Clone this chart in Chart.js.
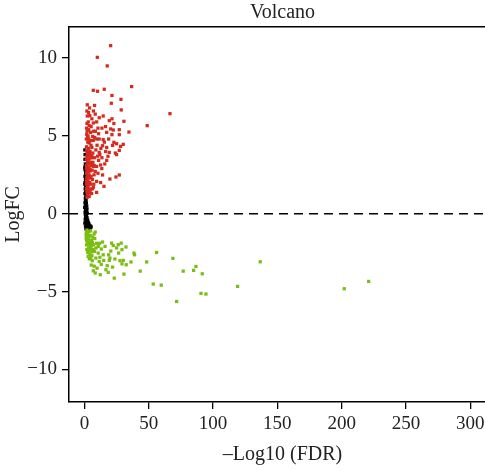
<!DOCTYPE html>
<html><head><meta charset="utf-8">
<script src="https://cdn.jsdelivr.net/npm/chart.js@4"></script>
<style>html,body{margin:0;padding:0;background:#fff;overflow:hidden}</style>
</head><body>
<canvas id="c" width="500" height="471"></canvas>
<script>
// [-log10(FDR), logFC]
const upRegulated = [
[20.4,10.8],[10,10.05],[17.7,9.5],[36.7,8.17],[6.9,7.93],[10.2,7.87],[15.4,8.0],[21.4,7.6],[28.4,7.35],[2.2,7.0],[7.9,6.96],[20.9,7.1],[28.6,6.67],[66.5,6.43],[2.2,6.28],[5.8,6.1],[8.4,6.4],[11.5,6.17],[14.6,6.28],[19.3,5.98],[21.4,6.1],[30.7,5.94],[22.9,5.8],[48.8,5.66],[6.9,5.83],[3.7,5.66],[1.7,5.5],[10.5,5.5],[13.6,5.5],[20.4,5.45],[22.4,5.38],[27.1,5.4],[34.6,5.25],[4.8,5.23],[17.3,5.23],[21.4,5.08],[27.1,5.08],[11,5.14],[6.4,4.97],[2.5,4.9],[11.5,4.8],[14.6,4.76],[6.9,4.71],[3.7,4.55],[22.9,4.59],[21.9,4.39],[25,4.5],[30.2,4.46],[28.1,4.33],[14.1,4.37],[17.3,4.26],[27.1,4.07],[19.3,3.94],[24,3.9],[25,3.8],[5.8,4.26],[8.9,4.1],[11.5,3.94],[12,3.8],[2.9,3.9],[5.8,3.73],[7.9,3.6],[18.3,3.69],[17.3,3.43],[11,3.43],[12.6,3.13],[6.9,3.04],[9.5,3.04],[4.3,2.83],[8.4,2.72],[14.1,2.49],[19.8,2.23],[24.5,2.36],[27.1,2.49],[9.5,2.08],[12.6,2.0],[15.2,1.76],[6.9,1.7],[9.5,1.37],[4.8,1.55],[3.7,1.11],
[1.8,5.1],[2.6,4.6],[1.6,4.3],[3.2,4.2],[4.4,4.0],[1.9,3.7],[3.5,3.5],[2.4,3.3],[4.9,3.3],[1.7,3.1],[3.1,3.0],[5.5,3.1],[2.1,2.7],[3.6,2.5],[5.2,2.4],[1.8,2.3],[2.8,2.1],[4.1,2.0],[6.2,2.2],[1.6,1.9],[2.5,1.7],[3.8,1.6],[1.9,1.4],[2.7,1.25],[5.6,1.3],[7.5,2.5],[6.5,3.9],[4.6,4.7],[3.0,5.9],[1.5,3.5],[2.2,4.0],[1.7,2.6],[4.0,3.2],[6.0,2.8],[2.0,1.05],[8.0,4.9],[9.8,4.4],[7.2,5.3],[12.8,4.2],[15.8,3.2],[13.5,2.9],[10.5,2.6],[16.5,4.0],[18.8,4.8],[7.0,6.6],[4.0,6.8],[1.9,6.6],[9.5,5.9],[3.0,2.7],[2.3,3.8],
[1.5,4.8],[2.1,5.3],[2.8,5.0],[3.4,4.8],[1.6,4.05],[2.7,3.7],[3.9,3.8],[4.8,3.6],[1.5,2.9],[2.4,2.9],[3.6,2.9],[4.6,2.75],[2.2,2.45],[3.1,2.3],[4.5,2.3],[1.5,2.1],[2.2,1.95],[3.2,1.85],[5.0,1.9],[1.7,1.6],[3.0,1.45],[4.3,1.35],[2.3,1.2],[6.3,1.6],[7.3,1.9],[5.5,3.6],[6.6,3.3],[7.6,3.1],[5.1,4.4],[3.3,5.4],[2.0,5.8],[5.2,5.6],[4.2,6.3],[3.2,6.5],[8.5,5.3],[9.6,4.8],[10.3,3.7],[13.6,3.6],[15.5,4.6],[16.4,5.6]
];
const downRegulated = [
[1.5,-1.2],[2.5,-1.3],[3.5,-1.15],[1.8,-1.5],[3.0,-1.6],[4.5,-1.4],[5.5,-1.7],[2.2,-1.8],[4.0,-1.9],[6.5,-1.5],[1.6,-2.0],[3.2,-2.2],[5.0,-2.3],[7.0,-2.0],[2.6,-2.5],[4.2,-2.6],[6.0,-2.45],[8.0,-1.6],[9.5,-1.9],[3.8,-2.9],[5.8,-2.7],[2.0,-1.05],[1.3,-1.35],[4.8,-1.1],[7.5,-1.3],[1.6,-1.7],[3.3,-2.0],
[8.4,-1.18],[14.1,-1.82],[21.1,-1.89],[22.4,-2.04],[26.3,-1.99],[28.6,-1.89],[25,-2.2],[29.2,-2.31],[32.3,-2.14],[38.5,-2.53],[39,-2.64],[56.1,-2.49],[68.8,-2.87],[86.7,-3.39],[76.8,-3.69],[84.9,-3.64],[91.6,-3.86],[53.5,-4.52],[59.7,-4.59],[90.6,-5.12],[94.5,-5.16],[71.7,-5.64],[43.4,-3.69],[48.4,-3.1],[36.2,-3.1],[30.7,-3.88],[23.2,-4.14],[18.5,-3.77],[12.3,-3.92],[8.4,-3.81],[6.9,-3.67],[7.6,-3.37],[6.1,-3.02],[8.9,-2.85],[11.5,-3.07],[13.1,-3.26],[16.7,-3.6],[17.7,-3.34],[19.3,-3.0],[21.9,-3.43],[23.7,-2.91],[26.6,-2.53],[27.6,-3.02],[30.2,-3.0],[32.5,-3.28],[29.2,-3.22],[14.6,-2.64],[10.7,-2.53],[18.8,-2.64],[19.8,-2.85],[7.9,-2.42],[4.8,-2.1],[10.7,-2.1],[13.1,-2.27],[136.7,-3.09],[119.1,-4.67],[202,-4.82],[221,-4.35],
[1.4,-1.55],[2.4,-1.6],[3.6,-1.45],[2.8,-1.95],[4.6,-1.75],[6.2,-1.85],[1.9,-2.3],[3.6,-2.4],[5.4,-2.05],[6.8,-2.3],[2.9,-2.75],[4.9,-2.85],[9.0,-2.2],[11.8,-1.9],[12.0,-2.8],[16.0,-2.1],[5.3,-3.3],[9.8,-3.5],[15.0,-3.0],[20.5,-2.4]
];
const notSignificant = [
[0.3,4.1],[0.5,3.8],[0.4,3.5],[0.7,3.2],[0.3,3.0],[0.6,2.8],[0.9,2.6],[0.4,2.4],[0.8,2.2],[0.5,2.0],[1.0,1.8],[0.6,1.6],[0.9,1.4],[0.4,1.3],[1.1,1.1],[0.7,1.0],[1.3,0.9],[0.8,0.8],[1.5,0.7],[1.0,0.6],[1.8,0.5],[0.6,0.45],[1.2,0.35],[2.0,0.3],[0.9,0.2],[1.5,0.15],[0.5,0.1],[1.1,0.0],[2.2,0.05],[0.7,-0.05],[1.6,-0.1],[0.9,-0.2],[2.0,-0.25],[1.2,-0.3],[0.6,-0.35],[2.5,-0.4],[1.5,-0.45],[1.0,-0.5],[3.0,-0.55],[2.0,-0.6],[1.3,-0.65],[3.5,-0.65],[2.6,-0.7],[1.7,-0.75],[4.0,-0.75],[3.2,-0.8],[2.2,-0.85],[4.8,-0.8],[3.8,-0.88],[1.5,-0.9],[2.8,-0.95],[4.5,-0.92],[5.2,-0.85],[1.2,-0.98],[0.4,0.7],[0.3,-0.6],[0.5,2.9],[0.3,1.9],[0.2,0.4],[0.8,-0.8]
];
const zeroLine = [[-12,0],[320,0]];
const xTickValues = [0,50,100,150,200,250,300];
const yTickValues = [-10,-5,0,5,10];
const xRange = [-12,320];
const yRange = [-12.1,12];

const toXY = a => a.map(p => ({x:p[0], y:p[1]}));
const fam = '"Liberation Serif", "DejaVu Serif", serif';
const tickFont = () => ({family: fam, size: 19});
const titleFont = () => ({family: fam, size: 20});
const axisGrid = () => ({drawOnChartArea:false, drawTicks:true, tickLength:7, color:'#000', lineWidth:1.3});
const axisBorder = () => ({display:true, color:'#000', width:1.5});

new Chart(document.getElementById('c'), {
  type: 'scatter',
  data: {
    datasets: [
      {label:'up', data: toXY(upRegulated), backgroundColor:'#d62a1e', borderWidth:0, pointStyle:'rect', pointRadius:2.3},
      {label:'down', data: toXY(downRegulated), backgroundColor:'#7bbd12', borderWidth:0, pointStyle:'rect', pointRadius:2.3},
      {label:'ns', data: toXY(notSignificant), backgroundColor:'#000', borderWidth:0, pointStyle:'rect', pointRadius:2.3},
      {type:'line', label:'zero', data: toXY(zeroLine), borderColor:'#000', borderWidth:1.5, borderDash:[9,6], pointRadius:0, fill:false}
    ]
  },
  options: {
    responsive:false, animation:false,
    layout:{padding:0},
    plugins:{legend:{display:false}, tooltip:{enabled:false}},
    scales: {
      x: {type:'linear', position:'bottom', min:xRange[0], max:xRange[1],
          afterBuildTicks: s => { s.ticks = xTickValues.map(v => ({value:v})); },
          afterFit: s => { s.height = 69; },
          ticks:{font:tickFont(), color:'#222', padding:4, autoSkip:false, maxRotation:0},
          grid: axisGrid(), border: axisBorder(),
          title:{display:true, text:'\u2013Log10 (FDR)', font:titleFont(), color:'#222', padding:{top:2,bottom:4}}},
      xTop: {type:'linear', position:'top', min:xRange[0], max:xRange[1],
          afterFit: s => { s.height = 27; },
          ticks:{display:false}, grid:{display:false, drawTicks:false}, border: axisBorder(),
          title:{display:true, text:'Volcano', font:titleFont(), color:'#222', padding:{top:1,bottom:0}}},
      y: {type:'linear', min:yRange[0], max:yRange[1],
          afterBuildTicks: s => { s.ticks = yTickValues.map(v => ({value:v})); },
          afterFit: s => { s.width = 69; },
          ticks:{font:tickFont(), color:'#222', padding:5, autoSkip:false,
                 callback: v => (v < 0 ? '\u2212' + Math.abs(v) : String(v))},
          grid: axisGrid(), border: axisBorder(),
          title:{display:true, text:'LogFC', font:titleFont(), color:'#222', padding:{top:2,bottom:0}}}
    }
  }
});
</script>
</body></html>
